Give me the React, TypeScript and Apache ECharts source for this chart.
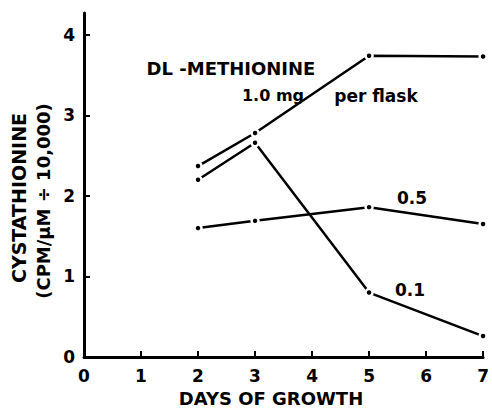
import React, { useEffect, useRef } from "react";
import * as echarts from "echarts";

const days = [2, 3, 5, 7];
const series10 = [2.37, 2.78, 3.74, 3.73];
const series05 = [1.6, 1.69, 1.86, 1.65];
const series01 = [2.2, 2.66, 0.8, 0.26];
const xTicks = [0, 1, 2, 3, 4, 5, 6, 7];
const yTicks = [0, 1, 2, 3, 4];

const FONT = "DejaVu Sans";

function mkSeries(name: string, vals: number[]) {
  return {
    name,
    type: "line",
    data: days.map((d, i) => [d, vals[i]]),
    symbol: "circle",
    symbolSize: 7,
    itemStyle: { color: "#000", borderColor: "#fff", borderWidth: 2.5 },
    lineStyle: { color: "#000", width: 2.5 },
    z: 3,
  };
}

export default function App() {
  const ref = useRef<HTMLDivElement>(null);
  useEffect(() => {
    document.body.style.margin = "0";
    const chart = echarts.init(ref.current!, null, { renderer: "svg" });
    const txt = (text: string, x: number, y: number, size: number, rot = 0) => ({
      type: "text",
      x,
      y,
      rotation: rot,
      style: {
        text,
        font: `bold ${size}px "${FONT}"`,
        fill: "#000",
        align: "center",
        verticalAlign: "middle",
      },
    });
    chart.setOption({
      animation: false,
      backgroundColor: "#fff",
      grid: { left: 84, right: 7, top: 13, bottom: 53 },
      xAxis: {
        type: "value",
        min: 0,
        max: 7,
        interval: 1,
        axisLine: { lineStyle: { color: "#000", width: 3 } },
        axisTick: {
          inside: true,
          length: 6,
          lineStyle: { color: "#000", width: 2 },
          customValues: xTicks.slice(1),
        },
        axisLabel: {
          customValues: xTicks,
          color: "#000",
          fontFamily: FONT,
          fontWeight: "bold",
          fontSize: 17,
          margin: 10,
        },
        splitLine: { show: false },
      },
      yAxis: {
        type: "value",
        min: 0,
        max: 4.27,
        axisLine: { show: true, lineStyle: { color: "#000", width: 3 } },
        axisTick: {
          show: true,
          inside: true,
          length: 6,
          lineStyle: { color: "#000", width: 2 },
          customValues: yTicks.slice(1),
        },
        axisLabel: {
          customValues: yTicks,
          color: "#000",
          fontFamily: FONT,
          fontWeight: "bold",
          fontSize: 17,
          margin: 9,
        },
        splitLine: { show: false },
      },
      series: [
        mkSeries("1.0", series10),
        mkSeries("0.5", series05),
        mkSeries("0.1", series01),
      ],
      graphic: [
        txt("DAYS OF GROWTH", 271, 398, 18),
        txt("CYSTATHIONINE", 19, 198, 19, Math.PI / 2),
        txt("(CPM/\u03bcM \u00f7 10,000)", 43, 201, 18, Math.PI / 2),
        txt("DL -METHIONINE", 231, 68, 18),
        txt("1.0 mg", 273, 95, 16),
        txt("per flask", 376, 96, 17),
        txt("0.5", 412, 198, 17),
        txt("0.1", 410, 290, 17),
      ],
    });
    return () => chart.dispose();
  }, []);
  return <div ref={ref} style={{ width: 492, height: 410 }} />;
}
